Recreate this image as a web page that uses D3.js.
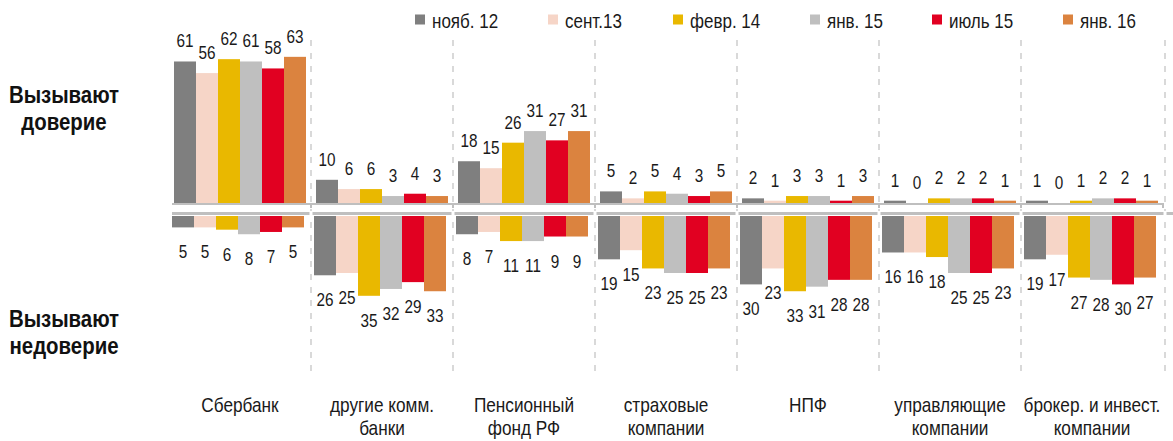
<!DOCTYPE html>
<html>
<head>
<meta charset="utf-8">
<script src="https://cdn.jsdelivr.net/npm/d3@7"></script>
<style>
  body { margin: 0; background: #fff; }
  svg { display: block; font-family: "Liberation Sans", Arial, sans-serif; }
</style>
</head>
<body>
<div id="graph"></div>
<script>
// categories and periods
const categories = ["Сбербанк", "другие комм. банки", "Пенсионный фонд РФ", "страховые компании",
  "НПФ", "управляющие компании", "брокер. и инвест. компании"];
const categoryLines = [["Сбербанк"], ["другие комм.", "банки"], ["Пенсионный", "фонд РФ"],
  ["страховые", "компании"], ["НПФ"], ["управляющие", "компании"], ["брокер. и инвест.", "компании"]];
const periods = ["нояб. 12", "сент.13", "февр. 14", "янв. 15", "июль 15", "янв. 16"];
const colors = ["#7f7f7f", "#f6d5c7", "#e9b800", "#bfbfbf", "#e10021", "#db833f"];

// "вызывают доверие", % (one row per category, one value per period)
const trust = [
  [61, 56, 62, 61, 58, 63],
  [10, 6, 6, 3, 4, 3],
  [18, 15, 26, 31, 27, 31],
  [5, 2, 5, 4, 3, 5],
  [2, 1, 3, 3, 1, 3],
  [1, 0, 2, 2, 2, 1],
  [1, 0, 1, 2, 2, 1]
];
// "вызывают недоверие", %
const distrust = [
  [5, 5, 6, 8, 7, 5],
  [26, 25, 35, 32, 29, 33],
  [8, 7, 11, 11, 9, 9],
  [19, 15, 23, 25, 25, 23],
  [30, 23, 33, 31, 28, 28],
  [16, 16, 18, 25, 25, 23],
  [19, 17, 27, 28, 30, 27]
];

const W = 1173, H = 441;
const NARROW = 0.85;   // no condensed font available, squeeze text horizontally
const svg = d3.select("#graph").append("svg").attr("width", W).attr("height", H);

function ntext(parent, x, y, size, k) {
  return parent.append("text")
    .attr("transform", "translate(" + x + "," + y + ") scale(" + (k || NARROW) + ",1)")
    .attr("font-size", size).attr("fill", "#1a1a1a");
}

const x = d3.scaleBand().domain(categories).range([169, 1163]);
const xLow = d3.scaleBand().domain(categories).range([167, 1161]);
const inner = d3.scaleBand().domain(periods).range([5, x.bandwidth() - 5]);

const yTop = d3.scaleLinear().domain([0, 70]).range([203, 203 - 70 * 2.32]);
const yBot = d3.scaleLinear().domain([0, 40]).range([216, 216 + 40 * 2.28]);

// dashed separators
const seps = categories.slice(1).map(c => x(c)).concat([x.range()[1] + 2]);
svg.append("g").selectAll("line").data(seps).enter().append("line")
  .attr("x1", d => d).attr("x2", d => d)
  .attr("y1", 40).attr("y2", 376)
  .attr("stroke", "#d9d9d9").attr("stroke-width", 2).attr("stroke-dasharray", "6,7");

// upper bars
categories.forEach((c, i) => {
  const g = svg.append("g").attr("transform", "translate(" + x(c) + ",0)");
  g.selectAll("rect").data(trust[i]).enter().append("rect")
    .attr("x", (d, j) => inner(periods[j]))
    .attr("y", d => yTop(d))
    .attr("width", inner.bandwidth())
    .attr("height", d => yTop(0) - yTop(d))
    .attr("fill", (d, j) => colors[j]);
  trust[i].forEach((d, j) => {
    ntext(g, inner(periods[j]) + inner.bandwidth() / 2, yTop(d) - 14, 18)
      .attr("text-anchor", "middle").text(d);
  });
});

// lower bars
categories.forEach((c, i) => {
  const g = svg.append("g").attr("transform", "translate(" + xLow(c) + ",0)");
  g.selectAll("rect").data(distrust[i]).enter().append("rect")
    .attr("x", (d, j) => inner(periods[j]))
    .attr("y", yBot(0))
    .attr("width", inner.bandwidth())
    .attr("height", d => yBot(d) - yBot(0))
    .attr("fill", (d, j) => colors[j]);
  distrust[i].forEach((d, j) => {
    ntext(g, inner(periods[j]) + inner.bandwidth() / 2, yBot(d) + 31, 18)
      .attr("text-anchor", "middle").text(d);
  });
});

// axes lines
svg.append("line").attr("x1", 172).attr("x2", 1163).attr("y1", 204).attr("y2", 204)
  .attr("stroke", "#bfbfbf").attr("stroke-width", 2);
svg.append("g").selectAll("line").data(seps.slice(0, -1).concat([1163])).enter().append("line")
  .attr("x1", d => d).attr("x2", d => d).attr("y1", 203).attr("y2", 208)
  .attr("stroke", "#bfbfbf").attr("stroke-width", 2);
svg.append("line").attr("x1", 172).attr("x2", W).attr("y1", 213.5).attr("y2", 213.5)
  .attr("stroke", "#bfbfbf").attr("stroke-width", 3);
// small white breaks where separators cross the lower line
svg.append("g").selectAll("rect").data(seps).enter().append("rect")
  .attr("x", d => d - 1.5).attr("y", 211).attr("width", 3).attr("height", 5)
  .attr("fill", "#fff");

// category labels
categories.forEach((c, i) => {
  const t = ntext(svg, x(c) + x.bandwidth() / 2, 412, 21, 0.82).attr("text-anchor", "middle");
  categoryLines[i].forEach((l, k) => {
    t.append("tspan").attr("x", 0).attr("dy", k ? 23 : 0).text(l);
  });
});

// side titles
[["Вызывают", "доверие", 103], ["Вызывают", "недоверие", 327]].forEach(d => {
  const t = ntext(svg, 64, d[2], 24).attr("text-anchor", "middle")
    .attr("font-weight", "bold").attr("fill", "#111");
  t.append("tspan").attr("x", 0).text(d[0]);
  t.append("tspan").attr("x", 0).attr("dy", 27).text(d[1]);
});

// legend
const legendX = [415, 548, 673, 810, 932, 1063];
periods.forEach((p, i) => {
  svg.append("rect").attr("x", legendX[i]).attr("y", 14.5).attr("width", 10).attr("height", 10)
    .attr("fill", colors[i]);
  ntext(svg, legendX[i] + 17, 28, 20).text(p);
});
</script>
</body>
</html>
